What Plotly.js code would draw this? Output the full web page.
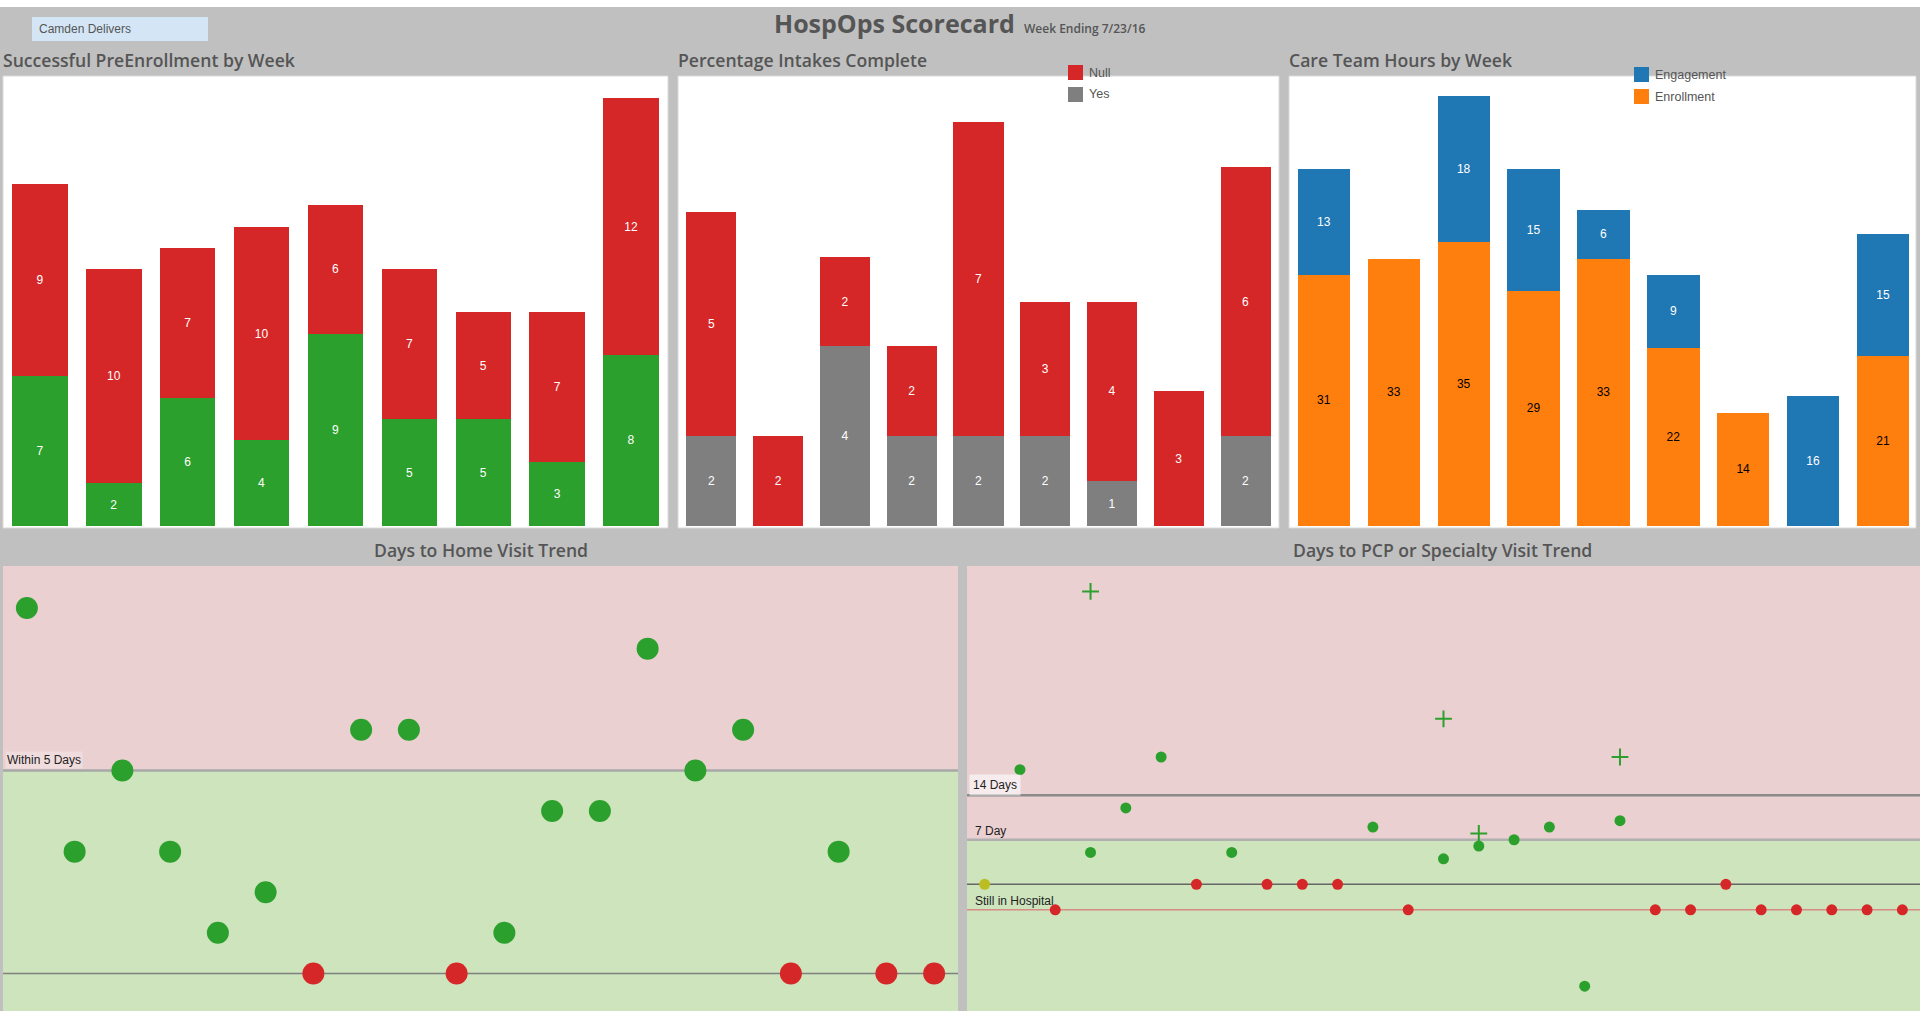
<!DOCTYPE html>
<html>
<head>
<meta charset="utf-8">
<script src="https://cdn.plot.ly/plotly-3.0.1.min.js"></script>
<style>
html,body{margin:0;padding:0;background:#c0c0c0;overflow:hidden;}
#chart{width:1920px;height:1011px;}
</style>
</head>
<body>
<div id="chart"></div>
<script>
// ---------- DATA ----------
const weeks = ['W1','W2','W3','W4','W5','W6','W7','W8','W9'];
// Successful PreEnrollment by Week
const preEnrollSuccess = [7,2,6,4,9,5,5,3,8];
const preEnrollNotYet  = [9,10,7,10,6,7,5,7,12];
// Percentage Intakes Complete
const intakeYes  = [2,0,4,2,2,2,1,0,2];
const intakeNull = [5,2,2,2,7,3,4,3,6];
// Care Team Hours by Week
const hoursEnrollment = [31,33,35,29,33,22,14,0,21];
const hoursEngagement = [13,0,18,15,6,9,0,16,15];

// Days to Home Visit Trend
const homePatients = ['H01','H02','H03','H04','H05','H06','H07','H08','H09','H10',
                      'H11','H12','H13','H14','H15','H16','H17','H18','H19','H20'];
const homeVisitDays = [9,3,5,3,1,2,0,6,6,0,1,4,4,8,5,6,0,3,0,0];
const homeVisitStatus = ['Done','Done','Done','Done','Done','Done','Open','Done','Done','Open',
                         'Done','Done','Done','Done','Done','Done','Open','Done','Open','Open'];

// Days to PCP or Specialty Visit Trend
const pcpPatients = ['C01','C02','C03','C04','C05','C06','C07','C08','C09','C10','C11','C12','C13','C14',
                     'C15','C16','C17','C18','C19','C20','C21','C22','C23','C24','C25','C26','C27'];
const pcpVisitDays = [0,18,-4,5,12,20,0,5,0,0,0,9,-4,4,6,7,9,-16,10,-4,-4,0,-4,-4,-4,-4,-4];
const pcpVisitStatus = ['Scheduled','Done','Open','Done','Done','Done','Open','Done','Open','Open','Open','Done','Open','Done',
                        'Done','Done','Done','Done','Done','Open','Open','Open','Open','Open','Open','Open','Open'];
const pcpSpecialtyPatients = ['C04','C14','C15','C19'];
const pcpSpecialtyDays = [46,26,8,20];

// ---------- STYLE ----------
const C = {green:'#2ca02c', red:'#d62728', gray:'#7f7f7f', blue:'#1f77b4', orange:'#ff7f0e', yellow:'#bcbd22'};
const statusColor = {Done:C.green, Open:C.red, Scheduled:C.yellow};
const W = 1920, H = 1011;
const px = v => v / W;
const py = v => 1 - v / H;
const lbl = arr => arr.map(v => v === 0 ? '' : String(v));
const SANS = 'Liberation Sans, Arial, sans-serif';
const TITLE = 'Open Sans, sans-serif';
const barFont = col => ({family:SANS, size:12, color:col});

function bar(xa, ya, y, color, name, txtColor){
  return {type:'bar', x:weeks, y:y, name:name, xaxis:xa, yaxis:ya,
    marker:{color:color, line:{width:0}},
    text:lbl(y), textposition:'inside', insidetextanchor:'middle', textangle:0,
    insidetextfont:barFont(txtColor), hoverinfo:'y+name', showlegend:false};
}

const pre1 = bar('x','y', preEnrollSuccess, C.green, 'Yes', '#ffffff');
const pre2 = bar('x','y', preEnrollNotYet,  C.red,   'Null', '#ffffff');
const int1 = bar('x2','y2', intakeYes,  C.gray, 'Yes',  '#ffffff');
const int2 = bar('x2','y2', intakeNull, C.red,  'Null', '#ffffff');
const hr1  = bar('x3','y3', hoursEnrollment, C.orange, 'Enrollment', '#000000');
const hr2  = bar('x3','y3', hoursEngagement, C.blue,   'Engagement', '#ffffff');

const traces = [pre1, pre2, int1, int2, hr1, hr2,
  {type:'scatter', mode:'markers', x:homePatients, y:homeVisitDays, xaxis:'x4', yaxis:'y4',
   marker:{size:22, color:homeVisitStatus.map(s => statusColor[s]), line:{width:0}}, showlegend:false},
  {type:'scatter', mode:'markers', x:pcpPatients, y:pcpVisitDays, xaxis:'x5', yaxis:'y5',
   marker:{size:11, color:pcpVisitStatus.map(s => statusColor[s]), line:{width:0}}, showlegend:false},
  {type:'scatter', mode:'markers', x:pcpSpecialtyPatients, y:pcpSpecialtyDays, xaxis:'x5', yaxis:'y5',
   marker:{symbol:'cross-thin', size:12, color:C.green, line:{width:2, color:C.green}}, showlegend:false}
];

const hidden = {showgrid:false, zeroline:false, showticklabels:false, ticks:'', showline:false, fixedrange:true};
const topDom = [py(526), py(77)];
const botDom = [0, py(566)];

const shapes = [
  {type:'rect', xref:'paper', yref:'paper', x0:0, x1:1, y0:py(7), y1:1, fillcolor:'#ffffff', line:{width:0}, layer:'below'},
  {type:'rect', xref:'paper', yref:'paper', x0:px(32), x1:px(208), y0:py(41), y1:py(17), fillcolor:'#d4e6f5', line:{width:0}, layer:'below'},
  {type:'rect', xref:'paper', yref:'paper', x0:px(3), x1:px(668), y0:py(528), y1:py(76), fillcolor:'#ffffff', line:{width:1, color:'#dadada'}, layer:'below'},
  {type:'rect', xref:'paper', yref:'paper', x0:px(678), x1:px(1279), y0:py(528), y1:py(76), fillcolor:'#ffffff', line:{width:1, color:'#dadada'}, layer:'below'},
  {type:'rect', xref:'paper', yref:'paper', x0:px(1289), x1:px(1916), y0:py(528), y1:py(76), fillcolor:'#ffffff', line:{width:1, color:'#dadada'}, layer:'below'},
  // bottom-left bands and reference lines
  {type:'rect', xref:'x4 domain', yref:'y4', x0:0, x1:1, y0:5, y1:11, fillcolor:'#ebd0d2', line:{width:0}, layer:'below'},
  {type:'rect', xref:'x4 domain', yref:'y4', x0:0, x1:1, y0:-2, y1:5, fillcolor:'#cde4bd', line:{width:0}, layer:'below'},
  {type:'line', xref:'x4 domain', yref:'y4', x0:0, x1:1, y0:5, y1:5, line:{color:'#a8a8a8', width:2.5}, layer:'below'},
  {type:'line', xref:'x4 domain', yref:'y4', x0:0, x1:1, y0:0, y1:0, line:{color:'#808080', width:1.5}, layer:'below'},
  // bottom-right bands and reference lines
  {type:'rect', xref:'x5 domain', yref:'y5', x0:0, x1:1, y0:7, y1:60, fillcolor:'#ebd0d2', line:{width:0}, layer:'below'},
  {type:'rect', xref:'x5 domain', yref:'y5', x0:0, x1:1, y0:-30, y1:7, fillcolor:'#cde4bd', line:{width:0}, layer:'below'},
  {type:'line', xref:'x5 domain', yref:'y5', x0:0, x1:1, y0:14, y1:14, line:{color:'#8a8a8a', width:2.5}, layer:'below'},
  {type:'line', xref:'x5 domain', yref:'y5', x0:0, x1:1, y0:7, y1:7, line:{color:'#b0b0b0', width:2.5}, layer:'below'},
  {type:'line', xref:'x5 domain', yref:'y5', x0:0, x1:1, y0:0, y1:0, line:{color:'#666666', width:1.5}, layer:'below'},
  {type:'line', xref:'x5 domain', yref:'y5', x0:0, x1:1, y0:-4, y1:-4, line:{color:'#d88a84', width:1.5}, layer:'below'}
];

const annotations = [
  {xref:'paper', yref:'paper', x:px(37), y:py(29), xanchor:'left', yanchor:'middle', showarrow:false,
   text:'Camden Delivers', font:{family:SANS, size:12, color:'#555'}},
  {xref:'paper', yref:'paper', x:px(772), y:py(23), xanchor:'left', yanchor:'middle', showarrow:false,
   text:'HospOps Scorecard', font:{family:TITLE, size:25, color:'#555', weight:700}},
  {xref:'paper', yref:'paper', x:px(1022), y:py(28), xanchor:'left', yanchor:'middle', showarrow:false,
   text:'Week Ending 7/23/16', font:{family:TITLE, size:12, color:'#555', weight:600}},
  {xref:'paper', yref:'paper', x:px(1), y:py(60), xanchor:'left', yanchor:'middle', showarrow:false,
   text:'Successful PreEnrollment by Week', font:{family:TITLE, size:17.6, color:'#555', weight:600}},
  {xref:'paper', yref:'paper', x:px(676), y:py(60), xanchor:'left', yanchor:'middle', showarrow:false,
   text:'Percentage Intakes Complete', font:{family:TITLE, size:17.6, color:'#555', weight:600}},
  {xref:'paper', yref:'paper', x:px(1287), y:py(60), xanchor:'left', yanchor:'middle', showarrow:false,
   text:'Care Team Hours by Week', font:{family:TITLE, size:17.6, color:'#555', weight:600}},
  {xref:'paper', yref:'paper', x:px(481), y:py(550), xanchor:'center', yanchor:'middle', showarrow:false,
   text:'Days to Home Visit Trend', font:{family:TITLE, size:17.6, color:'#555', weight:600}},
  {xref:'paper', yref:'paper', x:px(1442), y:py(550), xanchor:'center', yanchor:'middle', showarrow:false,
   text:'Days to PCP or Specialty Visit Trend', font:{family:TITLE, size:17.6, color:'#555', weight:600}},
  {xref:'x4 domain', yref:'y4', x:0, y:5, xanchor:'left', yanchor:'bottom', xshift:2, yshift:1, showarrow:false,
   text:'Within 5 Days', bgcolor:'rgba(255,255,255,0.25)', borderpad:1,
   font:{family:SANS, size:12, color:'#222'}},
  {xref:'x5 domain', yref:'y5', x:0, y:14, xanchor:'left', yanchor:'bottom', xshift:2, yshift:-1, showarrow:false,
   text:'14 Days', bgcolor:'rgba(255,255,255,0.6)', borderpad:3,
   font:{family:SANS, size:12, color:'#222'}},
  {xref:'x5 domain', yref:'y5', x:0, y:7, xanchor:'left', yanchor:'bottom', xshift:6, yshift:0, showarrow:false,
   text:'7 Day', font:{family:SANS, size:12, color:'#222'}},
  {xref:'x5 domain', yref:'y5', x:0, y:-4, xanchor:'left', yanchor:'bottom', xshift:6, yshift:0, showarrow:false,
   text:'Still in Hospital', font:{family:SANS, size:12, color:'#222'}}
];

// legends (top stack first), built from the trace definitions
function addLegend(items, left, top){
  items.forEach((t, i) => {
    const y0 = top + i * 22;
    shapes.push({type:'rect', xref:'paper', yref:'paper', x0:px(left), x1:px(left + 15),
                 y0:py(y0 + 15), y1:py(y0), fillcolor:t.marker.color, line:{width:0}});
    annotations.push({xref:'paper', yref:'paper', x:px(left + 19), y:py(y0 + 7.5), xanchor:'left', yanchor:'middle',
                      showarrow:false, text:t.name, font:{family:SANS, size:12.5, color:'#555'}});
  });
}
addLegend([int2, int1], 1068, 65);
addLegend([hr2, hr1], 1634, 67);

const layout = {
  width:W, height:H,
  margin:{l:0,r:0,t:0,b:0},
  paper_bgcolor:'#c0c0c0',
  plot_bgcolor:'rgba(0,0,0,0)',
  barmode:'stack', bargap:0.25,
  showlegend:false,
  font:{family:TITLE, color:'#555555'},
  xaxis: Object.assign({domain:[px(3),px(668)], type:'category', range:[-0.5,8.5]}, hidden),
  yaxis: Object.assign({domain:topDom, range:[0,21]}, hidden),
  xaxis2: Object.assign({domain:[px(678),px(1279)], type:'category', range:[-0.5,8.5]}, hidden),
  yaxis2: Object.assign({domain:topDom, range:[0,10]}, hidden),
  xaxis3: Object.assign({domain:[px(1289),px(1918)], type:'category', range:[-0.5,8.5]}, hidden),
  yaxis3: Object.assign({domain:topDom, range:[0,55.4]}, hidden),
  xaxis4: Object.assign({domain:[px(3),px(958)], type:'category', range:[-0.5,19.5]}, hidden),
  yaxis4: Object.assign({domain:botDom, range:[-0.925,10.035]}, hidden),
  xaxis5: Object.assign({domain:[px(967),1], type:'category', range:[-0.5,26.5]}, hidden),
  yaxis5: Object.assign({domain:botDom, range:[-19.9,50]}, hidden),
  shapes:shapes,
  annotations:annotations
};

Plotly.newPlot('chart', traces, layout, {displayModeBar:false, staticPlot:true});
</script>
</body>
</html>
